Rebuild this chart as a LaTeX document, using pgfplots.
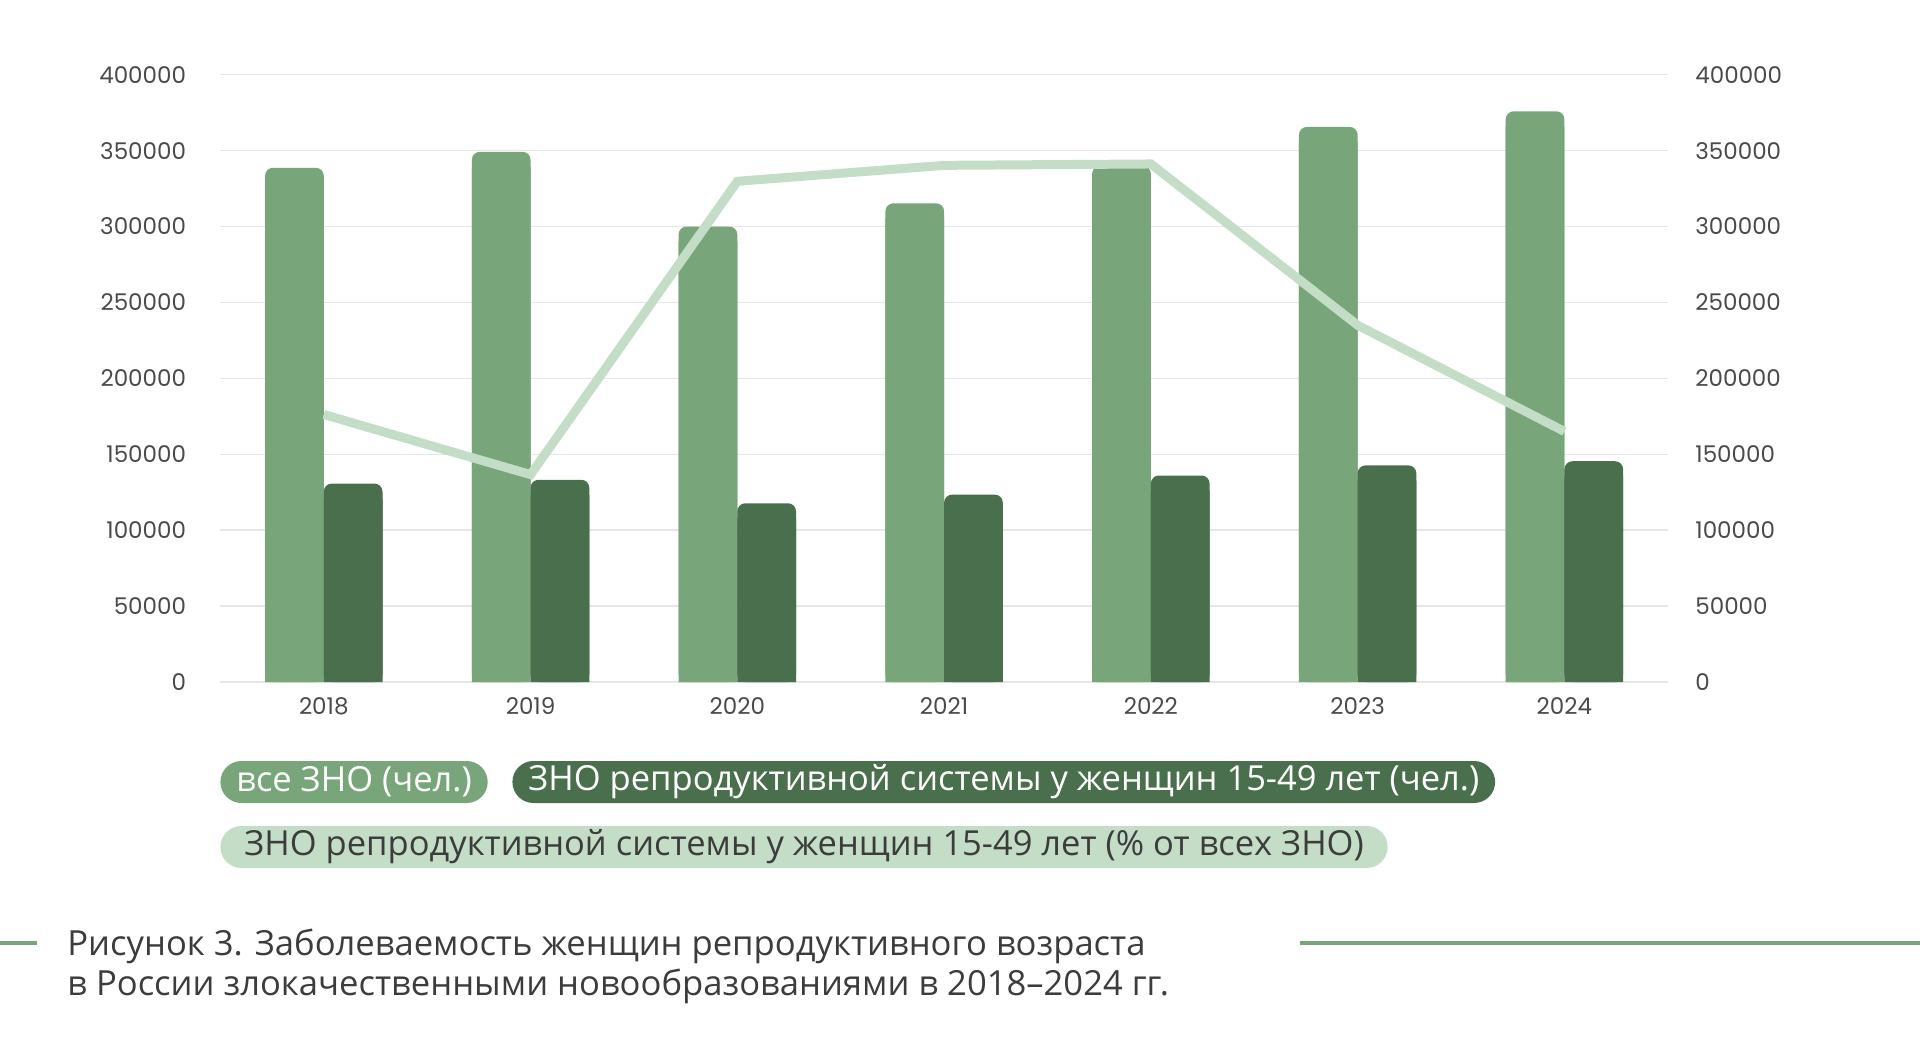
\documentclass[border=0pt]{standalone}
\usepackage{fontspec}
\usepackage{pgfplots}
\pgfplotsset{compat=1.18}
\setmainfont{Open Sans}
\newfontfamily\numfont{Poppins}
\definecolor{lightbar}{HTML}{78A67A}
\definecolor{darkbar}{HTML}{4A6F4C}
\definecolor{lineclr}{HTML}{C4DDC6}
\definecolor{gridclr}{HTML}{E6E6E6}
\definecolor{txt}{HTML}{3C3C3C}
\definecolor{lbl}{HTML}{4A4A4A}

\pgfplotstableread{
x all repro pct
0 338700 130700 176200
1 349200 133200 136600
2 300000 117700 329800
3 315300 123400 340300
4 340000 136000 341200
5 365600 142700 235000
6 375900 145400 165000
}\datatable

\begin{document}
\begin{tikzpicture}[x=1pt,y=1pt]
\path[use as bounding box] (0,0) rectangle (960,525.5);
\begin{axis}[
  at={(110.2pt,184.5pt)}, anchor=south west,
  scale only axis, width=723.7pt, height=303.65pt,
  xmin=-0.5, xmax=6.5, ymin=0, ymax=400000,
  xtick={0,...,6}, xticklabels={2018,2019,2020,2021,2022,2023,2024},
  ytick={0,50000,100000,150000,200000,250000,300000,350000,400000},
  yticklabels={0,50000,100000,150000,200000,250000,300000,350000,400000},
  ymajorgrids, grid style={gridclr, line width=0.7pt},
  axis line style={draw=none}, major tick length=0,
  scaled y ticks=false,
  tick label style={font=\numfont\fontsize{11.5}{12}\selectfont, text=lbl, inner sep=0pt},
  yticklabel shift=17pt, xticklabel shift=7.5pt,
]
\addplot[ybar, bar width=0.284, bar shift=-0.142, fill=lightbar, draw=none, rounded corners=4pt] table[x=x,y=all] {\datatable};
\addplot[ybar, bar width=0.284, bar shift=-0.142, fill=lightbar, draw=none, y filter/.expression={y-10000}] table[x=x,y=all] {\datatable};
\addplot[ybar, bar width=0.284, bar shift=0.142, fill=darkbar, draw=none, rounded corners=4pt] table[x=x,y=repro] {\datatable};
\addplot[ybar, bar width=0.284, bar shift=0.142, fill=darkbar, draw=none, y filter/.expression={y-10000}] table[x=x,y=repro] {\datatable};
\end{axis}
\begin{axis}[
  at={(110.2pt,184.5pt)}, anchor=south west,
  scale only axis, width=723.7pt, height=303.65pt,
  xmin=-0.5, xmax=6.5, ymin=0, ymax=400000,
  axis x line=none, axis y line*=right,
  ytick={0,50000,100000,150000,200000,250000,300000,350000,400000},
  yticklabels={0,50000,100000,150000,200000,250000,300000,350000,400000},
  axis line style={draw=none}, major tick length=0,
  scaled y ticks=false,
  tick label style={font=\numfont\fontsize{11.5}{12}\selectfont, text=lbl, inner sep=0pt},
  yticklabel shift=13.6pt,
]
\addplot[lineclr, line width=4.5pt, line join=miter, mark=none] table[x=x,y=pct] {\datatable};
\end{axis}

\node[fill=lightbar, rounded corners=10.5pt, anchor=west, text=white, inner xsep=8pt, inner ysep=0pt, minimum height=21pt, font=\fontsize{17.25}{20}\selectfont] at (110,134.5) {все ЗНО (чел.)};
\node[fill=darkbar, rounded corners=10.5pt, anchor=west, text=white, inner xsep=8pt, inner ysep=0pt, minimum height=21pt, font=\fontsize{17.25}{20}\selectfont] at (256,134.5) {ЗНО репродуктивной системы у женщин 15-49 лет (чел.)};
\node[fill=lineclr, rounded corners=10.5pt, anchor=west, text=txt, inner xsep=12pt, inner ysep=0pt, minimum height=21pt, font=\fontsize{17.25}{20}\selectfont] at (110,102) {ЗНО репродуктивной системы у женщин 15-49 лет (\% от всех ЗНО)};

\draw[lightbar, line width=2pt] (0,54) -- (18.5,54);
\draw[lightbar, line width=2pt] (650,54) -- (960,54);
\node[anchor=base west, text=txt, inner sep=0pt, font=\fontsize{17.3}{20}\selectfont] at (33.5,48) {Рисунок 3. Заболеваемость женщин репродуктивного возраста};
\node[anchor=base west, text=txt, inner sep=0pt, font=\fontsize{17.3}{20}\selectfont] at (33.5,27.7) {в России злокачественными новообразованиями в 2018–2024 гг.};
\end{tikzpicture}
\end{document}
